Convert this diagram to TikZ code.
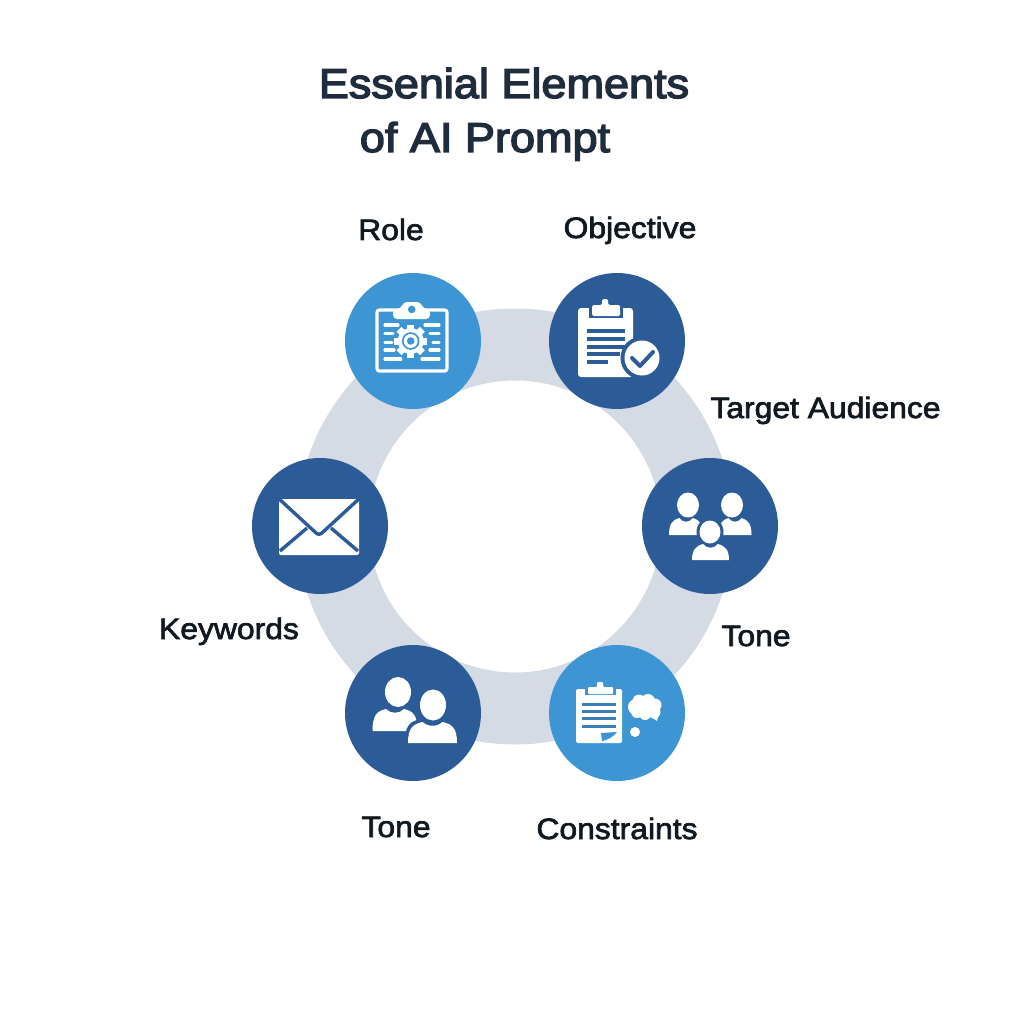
\documentclass[tikz,border=0pt]{standalone}
\usepackage{fontspec}
\setmainfont{Liberation Sans}
\newfontfamily\titlefont{Liberation Sans}[FakeStretch=1.085,RawFeature={embolden=3.4}]
\newfontfamily\labelfont{Liberation Sans}[FakeStretch=1.08,RawFeature={embolden=2.3}]
\definecolor{navyblue}{HTML}{2C5C98}
\definecolor{skyblue}{HTML}{3D95D3}
\definecolor{ruleblue}{HTML}{3A7FB8}
\definecolor{ringgrey}{HTML}{D5DBE5}
\definecolor{titleink}{HTML}{1E2C3C}
\definecolor{labelink}{HTML}{101820}
\tikzset{
  x=1pt,y=-1pt,
  disc/.style={circle,draw=none,minimum size=136pt,inner sep=0pt},
  navydisc/.style={disc,fill=navyblue},
  skydisc/.style={disc,fill=skyblue},
  itemlabel/.style={inner sep=0pt,anchor=base,text=labelink,font=\labelfont\fontsize{29.5}{36}\selectfont},
  titleline/.style={inner sep=0pt,anchor=base,text=titleink,font=\titlefont\fontsize{41.5}{48}\selectfont},
  bluerule/.style={line cap=round,line join=round},
  whiterule/.style={draw=white,line width=3.2pt,line cap=round},
}
% torso: centre x, top y, half width, bottom y
\newcommand{\torso}[5][white]{%
  \fill[#1] (#2-#4,#5) .. controls (#2-#4,#3+6) and (#2-#4*.8,#3+2) .. (#2-#4*.4,#3)
    .. controls (#2-#4*.2,#3+5) and (#2+#4*.2,#3+5) .. (#2+#4*.4,#3)
    .. controls (#2+#4*.8,#3+2) and (#2+#4,#3+6) .. (#2+#4,#5) -- cycle;}
\begin{document}
\begin{tikzpicture}
\useasboundingbox (0,0) rectangle (1024,1024);
\fill[white] (0,0) rectangle (1024,1024);
% ring
\fill[ringgrey,even odd rule] (515,526.5) circle[radius=218] (515,526.5) circle[radius=146];
% discs
\node[skydisc]  (role) at (413,341) {};
\node[navydisc] (objective) at (617,341) {};
\node[navydisc] (audience) at (710,526) {};
\node[navydisc] (keywords) at (320,526) {};
\node[navydisc] (toneleft) at (413,713) {};
\node[skydisc]  (constraints) at (617,713) {};
% title
\node[titleline] (titleone) at (504,98) {Essenial Elements};
\node[titleline] (titletwo) at (485,152) {of AI Prompt};
% labels
\node[itemlabel] (lrole) at (391,240) {Role};
\node[itemlabel] (lobjective) at (630,238) {Objective};
\node[itemlabel] (laudience) at (825.5,418) {Target Audience};
\node[itemlabel] (ltoneright) at (756,646) {Tone};
\node[itemlabel] (lkeywords) at (229,639) {Keywords};
\node[itemlabel] (ltoneleft) at (396,837) {Tone};
\node[itemlabel] (lconstraints) at (617,839) {Constraints};
% role icon
\draw[white,line width=3.2pt,rounded corners=2.5pt] (377,310) rectangle (447,371);
\fill[white,rounded corners=4pt] (393,319) -- (393,309) -- (401,309) -- (403,302) -- (421,302) -- (423,309) -- (430,309) -- (430,319) -- cycle;
\fill[skyblue] (411.7,309.5) circle[radius=3.8];
\foreach \ya/\xa/\xb in {325/385/398, 333.3/385/393, 342.3/385/392, 350/385/394, 359/385/400.7}{\draw[whiterule] (\xa,\ya) -- (\xb,\ya);}
\foreach \ya/\xa/\xb in {325/425/439, 333.3/430/439, 342.3/433/439, 350/430/439, 359/422/439}{\draw[whiterule] (\xa,\ya) -- (\xb,\ya);}
\begin{scope}[shift={(410.7,341)}]
  \foreach \a in {0,45,...,315}{\fill[white,rotate=\a] (-3.5,-16.5) rectangle (3.5,-9);}
  \fill[white] (0,0) circle[radius=13];
  \fill[skyblue] (0,0) circle[radius=8.8];
  \fill[white] (0,0) circle[radius=7];
  \fill[skyblue] (0,0) circle[radius=3.8];
\end{scope}
% objective icon
\fill[white,rounded corners=3pt] (578,308) rectangle (633,377);
\fill[navyblue] (589,302) rectangle (623,318);
\fill[white,rounded corners=1.5pt] (592,316) -- (592,305) -- (602,305) -- (602,299) -- (608,299) -- (608,305) -- (620,305) -- (620,316) -- cycle;
\foreach \ya/\xb in {331/625,339/625,347/625,354/620,362/608}{\draw[navyblue,line width=3.4pt] (587,\ya) -- (\xb,\ya);}
\fill[navyblue] (642,358) circle[radius=21.5];
\fill[white] (642,358) circle[radius=17.5];
\draw[navyblue,bluerule,line width=4pt] (632,358) -- (640,366) -- (653,352);
% envelope icon
\fill[white,rounded corners=2pt] (279,499) rectangle (359,555);
\draw[navyblue,line width=3.4pt,line join=round,line cap=round] (277,497) -- (315,532) .. controls (318,535) and (320,535) .. (323,532) -- (361,497);
\draw[navyblue,line width=3.4pt] (280,551) -- (307,528);
\draw[navyblue,line width=3.4pt] (358,551) -- (331,528);
% three people icon
\fill[white] (688,505) ellipse[x radius=11,y radius=12.5];
\torso{686}{518}{17}{535}
\fill[white] (732,505) ellipse[x radius=11,y radius=12.5];
\torso{735}{518}{16.5}{535}
\fill[navyblue] (710,532) ellipse[x radius=13.5,y radius=14.5];
\torso[navyblue]{710.5}{541}{21.5}{562}
\fill[white] (710,532) ellipse[x radius=10.5,y radius=11.5];
\torso{710.5}{544}{18.5}{560}
% two people icon
\fill[white] (398,692) ellipse[x radius=13,y radius=15];
\torso{395}{709}{22.5}{731}
\fill[navyblue] (433,705) ellipse[x radius=16,y radius=18.5];
\torso[navyblue]{432.5}{719}{28}{745}
\fill[white] (433,705) ellipse[x radius=13,y radius=15.5];
\torso{432.5}{722}{24.5}{743}
% constraints icon
\fill[white,rounded corners=1.5pt] (576,689) rectangle (622,743);
\fill[skyblue] (585,684) rectangle (616,695);
\fill[white,rounded corners=1pt] (588,694) -- (588,687) -- (597,687) -- (597,682) -- (603,682) -- (603,687) -- (613,687) -- (613,694) -- cycle;
\foreach \ya in {704,711,718,726}{\draw[ruleblue,line width=3pt] (582,\ya) -- (616,\ya);}
\fill[skyblue] (601,733) -- (617,732) .. controls (613,737) and (608,740) .. (602,741) -- cycle;
\fill[white] (645,707) ellipse[x radius=15,y radius=11] (636,707) circle[radius=8] (639,701) circle[radius=6.5] (648,701) circle[radius=7] (655,705) circle[radius=6.5] (654,712) circle[radius=6.5] (645,714) circle[radius=6] (637,712) circle[radius=6];
\fill[white] (650,716) -- (657,721) -- (660,710) -- cycle;
\fill[white] (635,732) circle[radius=5];
\end{tikzpicture}
\end{document}
